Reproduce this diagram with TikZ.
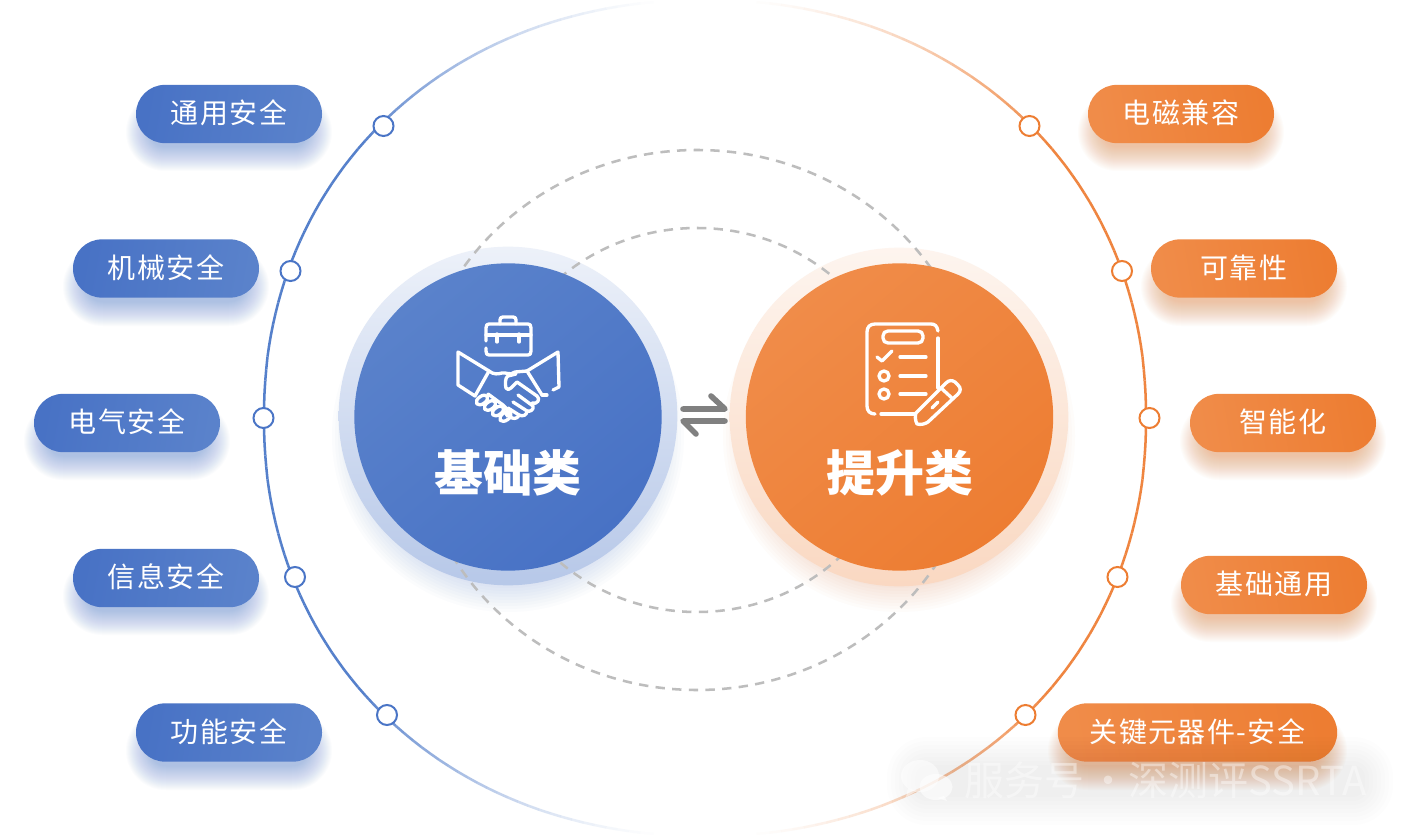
\documentclass[tikz,border=0pt]{standalone}
\usepackage{fontspec}
\setmainfont{Noto Sans CJK SC}
\newfontfamily\pillfont[LetterSpace=5]{Noto Sans CJK SC}
\usetikzlibrary{calc}
\definecolor{bluemain}{HTML}{4A75C6}
\definecolor{bluering}{HTML}{5580CB}
\definecolor{bluelight}{HTML}{5A82CB}
\definecolor{bluedark}{HTML}{4872C5}
\definecolor{orangemain}{HTML}{ED7D32}
\definecolor{orangering}{HTML}{EF8540}
\definecolor{orangelight}{HTML}{F08C49}
\definecolor{dashgrey}{HTML}{BDBDBD}
\definecolor{arrowgrey}{HTML}{808080}
\newcommand{\softpill}[5]{%
  \foreach \g in {10,9,...,-14}{%
    \pgfmathsetmacro\rr{max(2,(((#4)-(#2))/2+\g)*0.75)}
    \fill[#5,opacity=.02,rounded corners=\rr pt] ({#1-\g},{#2-\g+18}) rectangle ({#3+\g},{#4+\g+18});
  }}
\newcommand{\softdisk}[4]{%
  \foreach \g in {152,155,...,176}{%
    \fill[#4,opacity=.02] (#1,{#2+20}) circle[x radius=\g,y radius=\g];
  }}
\tikzset{
  pilltext/.style={text=white,text height=16pt,text depth=1.5pt,font=\pillfont\fontsize{21}{24}\selectfont},
  bluepill/.style={pilltext,rectangle,rounded corners=21.7pt,minimum width=139.5pt,minimum height=43.7pt,inner sep=0pt,
    left color=bluedark,right color=bluelight,shading angle=80},
  orangepill/.style={pilltext,rectangle,rounded corners=21.7pt,minimum width=139.5pt,minimum height=43.7pt,inner sep=0pt,
    left color=orangelight,right color=orangemain,shading angle=100},
  bluedot/.style={circle,draw=bluemain,fill=white,line width=1.5pt,minimum size=15pt,inner sep=0pt},
  orangedot/.style={circle,draw=orangemain,fill=white,line width=1.5pt,minimum size=15pt,inner sep=0pt},
  bluedisk/.style={circle,minimum size=230.5pt,inner sep=0pt,top color=bluelight,bottom color=bluedark,shading angle=40},
  orangedisk/.style={circle,minimum size=230.5pt,inner sep=0pt,top color=orangelight,bottom color=orangemain,shading angle=40},
  bluehalo/.style={circle,minimum size=254pt,inner sep=0pt,top color=bluemain!10!white,bottom color=bluemain!40!white},
  orangehalo/.style={circle,minimum size=254pt,inner sep=0pt,top color=orangemain!8!white,bottom color=orangemain!30!white},
  titletext/.style={text=white,font=\bfseries\fontsize{36.75}{40}\selectfont,inner sep=0pt},
  dashring/.style={draw=dashgrey,line width=1.9pt,dash pattern=on 7pt off 5.5pt},
  iconline/.style={draw=white,line width=2.5pt,line cap=round,line join=round},
  swapline/.style={draw=arrowgrey,line width=4.2pt,line cap=round,line join=round},
  marktext/.style={text=white,text opacity=.42,font=\fontsize{30}{32}\selectfont,inner sep=0pt}
}
\begin{document}
\begin{tikzpicture}[x=.75pt,y=-.75pt,
  declare function={sx(\t)=441*pow(abs(cos(\t))+0.0001,0.952);
                    sy(\t)=418*sin(\t)/(abs(sin(\t))+0.0001)*pow(abs(sin(\t))+0.0001,0.952);}]
\useasboundingbox (0,0) rectangle (1411,838);
\fill[white] (0,0) rectangle (1411,838);

% outer ring, fading towards top and bottom
\foreach \i in {-57,...,56}{
  \pgfmathsetmacro\ta{1.5*\i}
  \pgfmathsetmacro\tb{1.5*(\i+1)}
  \pgfmathsetmacro\oo{min(1,pow(max(0.001,(85-abs(\ta+.75))/45),1.4))}
  \draw[orangering,line width=1.9pt,opacity=\oo] ({705+sx(\ta)},{418+sy(\ta)}) -- ({705+sx(\tb)},{418+sy(\tb)});
  \draw[bluering,line width=1.9pt,opacity=\oo] ({705-sx(\ta)},{418+sy(\ta)}) -- ({705-sx(\tb)},{418+sy(\tb)});
}

% halos
\softdisk{508}{416}{169}{bluemain}
\softdisk{899}{416}{169}{orangemain}
\node[bluehalo] (basehalo) at (508,416) {};
\node[orangehalo] (uphalo) at (899,417) {};

% dashed rings
\draw[dashring] (697,420) circle[x radius=283,y radius=270];
\draw[dashring] (697,420) circle[x radius=204,y radius=192];

% disks
\node[bluedisk] (basedisk) at (508,417) {};
\node[orangedisk] (updisk) at (899.5,417) {};
\node[titletext] (basetitle) at (508,473) {基础类};
\node[titletext] (uptitle) at (899.5,473) {提升类};

% swap arrows
\draw[swapline] (683,409) -- (725,409) -- (711,396);
\draw[swapline] (725,421) -- (683,421) -- (696,434);

% briefcase + handshake icon
\draw[iconline] (486,341) -- (486,328) .. controls (486,325) and (487,324) .. (489,324) -- (528,324) .. controls (530,324) and (531,325) .. (531,328) -- (531,351) .. controls (531,354) and (530,355) .. (528,355) -- (489,355) .. controls (487,355) and (486,354) .. (486,351) -- (486,348);
\draw[iconline] (500,324) -- (500,320) .. controls (500,318) and (501,317) .. (503,317) -- (513,317) .. controls (515,317) and (516,318) .. (516,320) -- (516,324);
\draw[iconline] (486,335) -- (531,335);
\draw[iconline] (497,334) -- (497,342);
\draw[iconline] (519,334) -- (519,342);
\draw[iconline] (489,371) -- (458,352) -- (458,385) -- (475,396) -- cycle;
\draw[iconline] (542,395) -- (527,371) -- (558,352) -- (559,387) -- (553,390);
\draw[iconline] (542,395) -- (547,395);
\draw[iconline] (489,371) .. controls (494,375) and (498,374) .. (502,373) .. controls (506,372) and (510,376) .. (515,372) -- (527,371);
\draw[iconline] (516,374) -- (508,376) .. controls (505,377) and (505,385) .. (506,388) .. controls (507,390) and (509,390) .. (511,388) -- (517,382) -- (537,396) .. controls (541,399) and (537,405) .. (532,403);
\draw[iconline] (518,395) -- (533,406) .. controls (534,410) and (530,412) .. (527,411) -- (513,402);
\draw[iconline] (527,411) .. controls (527,415) and (523,417) .. (519,415) -- (508,408);
\draw[iconline] (519,415) .. controls (518,418) and (515,419) .. (512,418) -- (506,414);
\draw[iconline] (488,394) -- (503,405) .. controls (507,408) and (508,412) .. (507,416);
\foreach \p/\q in {482/400,490/405.5,498/411,505.5/416.5}{
  \draw[iconline,rotate around={35:(\p,\q)}] (\p,\q) circle[x radius=6.5,y radius=3.8];
}

% clipboard + pencil icon
\draw[iconline] (938,331) .. controls (937,326) and (935,324) .. (931,324) -- (875,324) .. controls (870,324) and (867,327) .. (867,332) -- (867,406) .. controls (867,411) and (870,414) .. (875,414);
\draw[iconline] (938,338) -- (938,388);
\draw[iconline] (881,414) -- (915,414);
\draw[iconline] (883,336) .. controls (883,333) and (885,331) .. (888,331) -- (918,331) .. controls (921,331) and (923,333) .. (923,336) -- (923,338) .. controls (923,341) and (921,343) .. (918,343) -- (888,343) .. controls (885,343) and (883,341) .. (883,338) -- cycle;
\draw[iconline] (877,357) -- (882,361) -- (892,351);
\draw[iconline] (900,357) -- (926,357);
\draw[iconline] (884,376) circle[x radius=5,y radius=5];
\draw[iconline] (900,376) -- (926,376);
\draw[iconline] (884,394) circle[x radius=5,y radius=5];
\draw[iconline] (900,394) -- (926,394);
\draw[iconline] (916,413) -- (946,383) .. controls (949,380) and (952,380) .. (955,382) -- (958,385) .. controls (961,388) and (961,391) .. (958,394) -- (928,422) .. controls (925,424) and (921,425) .. (917,424) .. controls (915,420) and (915,416) .. (916,413) -- cycle;
\draw[iconline] (941,388) -- (953,399);
\draw[iconline] (932,408) -- (938,402);

% pill shadows
\softpill{136}{85}{322}{143}{bluemain}
\softpill{73}{239}{259}{298}{bluemain}
\softpill{34}{394}{220}{452}{bluemain}
\softpill{73}{549}{259}{607}{bluemain}
\softpill{136}{703}{322}{762}{bluemain}
\softpill{1088}{85}{1274}{143}{orangemain}
\softpill{1151}{239}{1337}{298}{orangemain}
\softpill{1190}{394}{1376}{452}{orangemain}
\softpill{1181}{556}{1367}{614}{orangemain}
\softpill{1058}{703}{1337}{762}{orangemain}

% pills
\node[bluepill] (b1) at (229,114) {通用安全};
\node[bluepill] (b2) at (166,268.5) {机械安全};
\node[bluepill] (b3) at (127,423) {电气安全};
\node[bluepill] (b4) at (166,578) {信息安全};
\node[bluepill] (b5) at (229,732.5) {功能安全};
\node[orangepill] (o1) at (1181,114) {电磁兼容};
\node[orangepill] (o2) at (1244,268.5) {可靠性};
\node[orangepill] (o3) at (1283,423) {智能化};
\node[orangepill] (o4) at (1274,585) {基础通用};
\node[orangepill,minimum width=209.5pt] (o5) at (1197.5,732.5) {关键元器件-安全};

% ring dots
\node[bluedot] (d1) at (383.5,126) {};
\node[bluedot] (d2) at (290.5,271) {};
\node[bluedot] (d3) at (263.5,418) {};
\node[bluedot] (d4) at (295,577) {};
\node[bluedot] (d5) at (387,715) {};
\node[orangedot] (e1) at (1029.5,126) {};
\node[orangedot] (e2) at (1122,271) {};
\node[orangedot] (e3) at (1149.5,418) {};
\node[orangedot] (e4) at (1117.5,577) {};
\node[orangedot] (e5) at (1025.5,715) {};

% watermark
\foreach \g in {0,4,...,28}{
  \pgfmathsetmacro\rr{(12+\g)*.75}
  \fill[black,opacity=.006,rounded corners=\rr pt] ({915-\g},{765-\g}) rectangle ({1365+\g},{797+\g});
}
\fill[white,opacity=.55] (920,776) circle[x radius=19,y radius=16];
\fill[white,opacity=.55] (908,788) -- (906,797) -- (917,791) -- cycle;
\fill[white,opacity=.6] (936,787) circle[x radius=16.5,y radius=13];
\fill[white,opacity=.6] (944,796) -- (947,801) -- (937,798) -- cycle;
\node[marktext,anchor=west] (mark) at (964,780) {服务号\hspace{3pt}·深测评SSRTA};
\end{tikzpicture}
\end{document}
